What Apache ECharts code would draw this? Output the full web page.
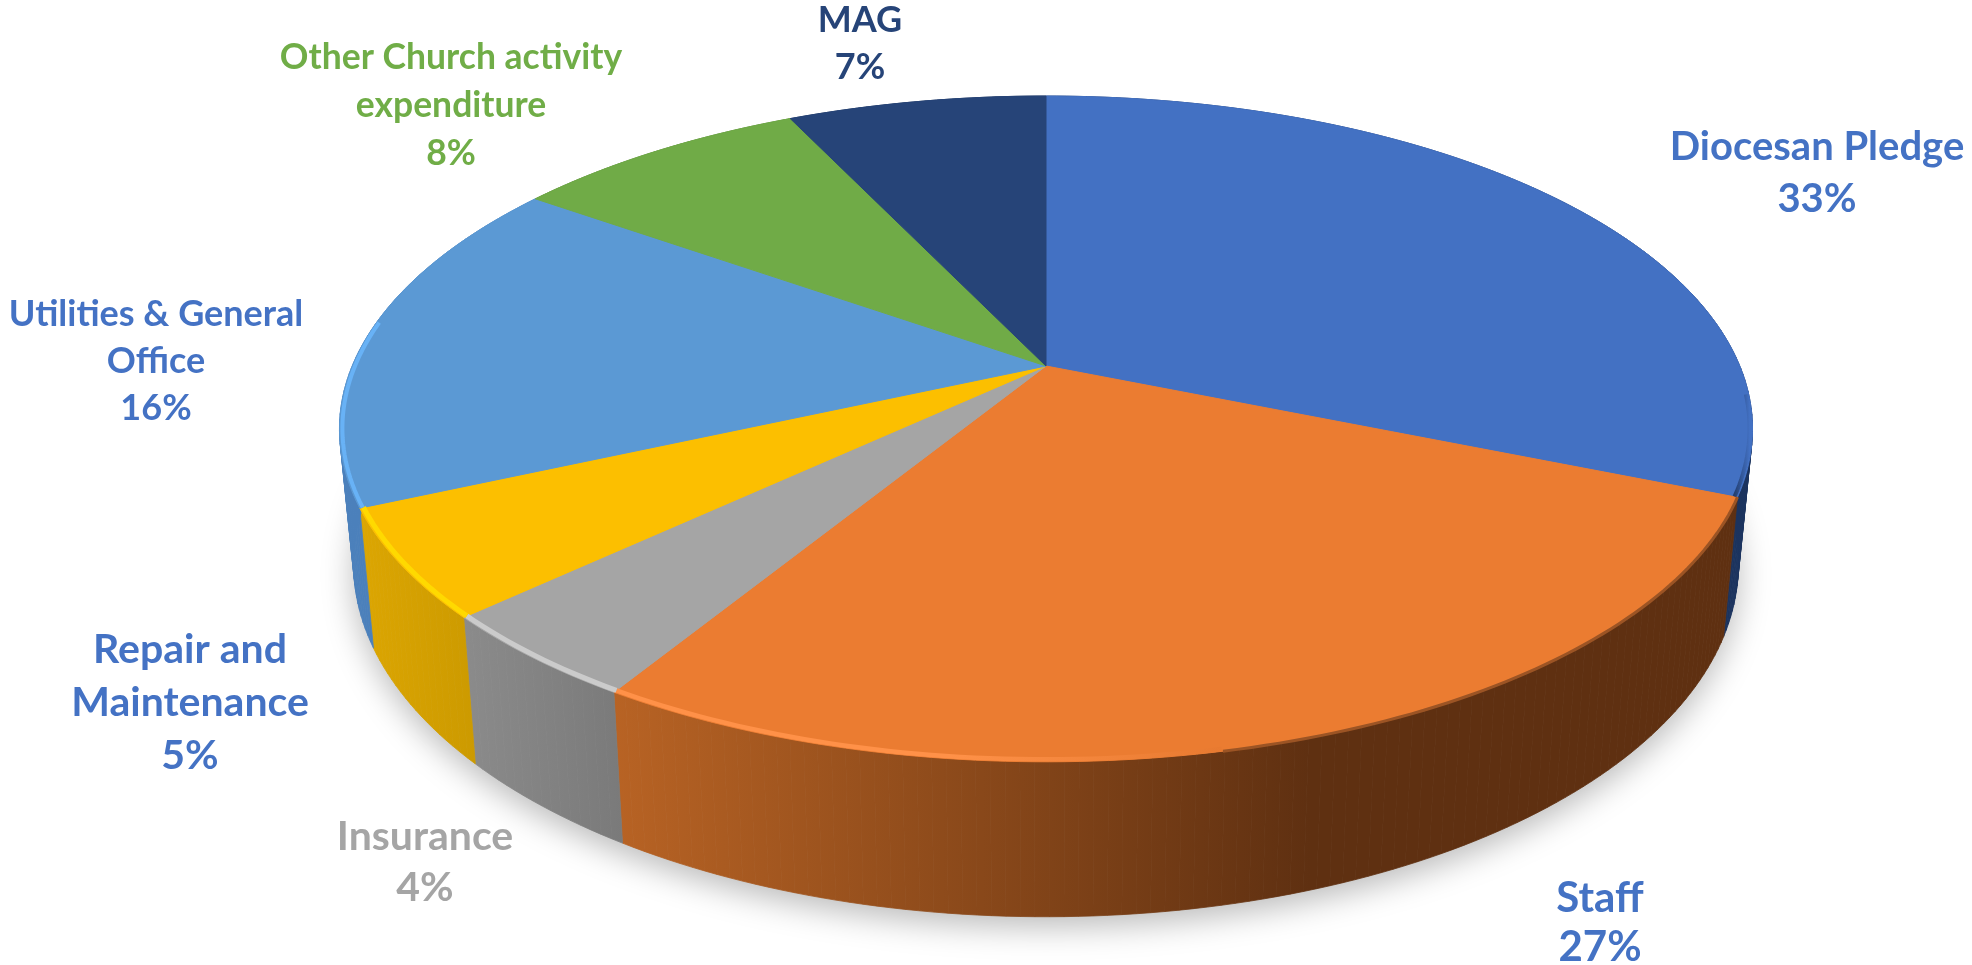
<!DOCTYPE html>
<html>
<head>
<meta charset="utf-8">
<style>html,body{margin:0;padding:0;background:#fff}#c{width:1972px;height:965px}</style>
<script src="https://cdn.jsdelivr.net/npm/echarts@6/dist/echarts.min.js"></script>
</head>
<body>
<div id="c"></div>
<script>
// Printed data labels
const categories = ['Diocesan Pledge','Staff','Insurance','Repair and Maintenance','Utilities & General Office','Other Church activity expenditure','MAG'];
const percentLabels = ['33%','27%','4%','5%','16%','8%','7%'];
// Share of the circle each slice occupies
const sliceShares = [31.2, 27.55, 4.3, 5.25, 16.5, 8.1, 7.1];
const topColors  = ['#4371c3','#eb7c31','#a5a5a5','#fcbf00','#5b99d4','#70ab47','#264478'];

const wallStops = [
  [[0,'#1b335e'],[1,'#1b335e']],
  [[0,'#b86324'],[0.62,'#5f3011'],[1,'#5f3011']],
  [[0,'#8b8b8b'],[1,'#7a7a7a']],
  [[0,'#dca602'],[1,'#cc9a00']],
  [[0,'#4b80bb'],[1,'#4b80bb']],
  [[0,'#4f7a32'],[1,'#4f7a32']],
  [[0,'#1b3055'],[1,'#1b3055']]
];
const rimStyle = [
  {from:95,  to:112.3, r:0.996, width:4, stops:[[0,'rgba(27,51,94,0)'],[1,'rgba(27,51,94,.8)']]},
  {from:112.3,to:168, r:1, width:3, stops:[[0,'#9c5424'],[1,'#9c5424']]},
  {from:168,to:211.5, r:0.995, width:4.5, stops:[[0,'#e87a30'],[0.45,'#ff9148'],[1,'#ff9148']]},
  {from:211.5,to:227, r:0.995, width:5, stops:[[0,'#cbcbcb'],[1,'#cbcbcb']]},
  {from:227, to:245.9,r:0.995, width:5, stops:[[0,'#ffd900'],[1,'#ffd900']]},
  {from:245.9,to:278, r:0.996, width:4, stops:[[0,'#68b2f6'],[1,'#68b2f6']]}
];
const labelLayout = [
  {x:1817,y:173,size:40,lh:52,fill:'#4472c4',lines:['Diocesan Pledge','33%']},
  {x:1600,y:923,size:42,lh:49,fill:'#4472c4',lines:['Staff','27%']},
  {x:425, y:862,size:41,lh:51,fill:'#a5a5a5',lines:['Insurance','4%']},
  {x:190, y:703,size:41,lh:53,fill:'#4472c4',lines:['Repair and','Maintenance','5%']},
  {x:156, y:361,size:36,lh:47,fill:'#4472c4',lines:['Utilities & General','Office','16%']},
  {x:451, y:106,size:35.5,lh:48,fill:'#70ad47',lines:['Other Church activity','expenditure','8%']},
  {x:860, y:44, size:36,lh:47,fill:'#264478',lines:['MAG','7%']}
];

// Perspective projection of the pie's top circle, and its mapping to the lower rim
const P = {cx:1046, cy:366, A:321, B:693.8, k:0.189, sx:0.98, by:1.059, ay:110};
const rad = d => d*Math.PI/180;
function topPt(deg, r){
  r = r===undefined?1:r;
  const u = r*Math.sin(rad(deg)), v = -r*Math.cos(rad(deg)), den = 1-P.k*v;
  return [P.cx+P.B*u/den, P.cy+P.A*v/den];
}
function lowPt(deg){
  const t = topPt(deg);
  return [P.cx+P.sx*(t[0]-P.cx), P.ay+P.by*t[1]];
}
function arc(fn, a0, a1, r){
  const n = Math.max(2, Math.ceil(Math.abs(a1-a0)));
  const pts = [];
  for(let i=0;i<=n;i++) pts.push(fn(a0+(a1-a0)*i/n, r));
  return pts;
}
const total = sliceShares.reduce((s,v)=>s+v,0);
const sweep = [];
sliceShares.reduce((acc,v)=>{const e=acc+v/total*360; sweep.push([acc,e]); return e;},0);

const G = echarts.graphic;
function xGrad(x0, x1, stops){
  return new G.LinearGradient(x0,0,x1,0,stops.map(s=>({offset:s[0],color:s[1]})),true);
}
const dataRows = sliceShares.map((v,i)=>[i,v]);

const shadowSeries = {
  type:'custom', coordinateSystem:'none', silent:true, z:1, data:[[0]],
  renderItem(){
    return {type:'polygon', shape:{points:arc(lowPt,0,360)},
      style:{fill:'#ccc', shadowBlur:32, shadowColor:'rgba(0,0,0,.27)', shadowOffsetX:0, shadowOffsetY:10}};
  }
};
const wallSeries = {
  type:'custom', coordinateSystem:'none', silent:true, z:2, data:dataRows,
  renderItem(params, api){
    const i = api.value(0), s = sweep[i];
    const up = arc(topPt,s[0],s[1]), dn = arc(lowPt,s[0],s[1]);
    const xs = up.concat(dn).map(p=>p[0]);
    const fill = xGrad(Math.min(...xs), Math.max(...xs), wallStops[i]);
    const children = [];
    // each strip joins the top rim to the lower rim, so the side keeps its straight silhouette
    for(let k=0;k<up.length-1;k++){
      children.push({type:'polygon', shape:{points:[up[k],up[k+1],dn[k+1],dn[k]]},
        style:{fill:fill, stroke:fill, lineWidth:0.8}});
    }
    return {type:'group', children:children};
  }
};
const topSeries = {
  type:'custom', coordinateSystem:'none', silent:true, z:3, data:dataRows,
  renderItem(params, api){
    const i = api.value(0), s = sweep[i];
    const pts = [topPt(0,0)].concat(arc(topPt,s[0],s[1]));
    return {type:'polygon', shape:{points:pts}, style:{fill:topColors[i], stroke:topColors[i], lineWidth:1}};
  }
};
const rimSeries = {
  type:'custom', coordinateSystem:'none', silent:true, z:4, data:rimStyle.map((_,i)=>[i]),
  renderItem(params, api){
    const r = rimStyle[api.value(0)];
    const pts = arc(topPt,r.from,r.to,r.r);
    const xs = pts.map(p=>p[0]);
    const stroke = xGrad(Math.max(...xs), Math.min(...xs), r.stops);
    return {type:'polyline', shape:{points:pts}, style:{fill:null, stroke:stroke, lineWidth:r.width, lineCap:'butt'}};
  }
};

const chart = echarts.init(document.getElementById('c'), null, {renderer:'canvas'});
chart.setOption({
  animation:false,
  backgroundColor:'#fff',
  series:[shadowSeries, wallSeries, topSeries, rimSeries],
  graphic:{elements:labelLayout.map(l=>({
    type:'text', x:l.x, y:l.y, z:10, silent:true,
    style:{text:l.lines.join('\n'), fill:l.fill, font:'bold '+l.size+'px Lato', lineHeight:l.lh, align:'center', verticalAlign:'middle'}
  }))}
});
</script>
</body>
</html>
